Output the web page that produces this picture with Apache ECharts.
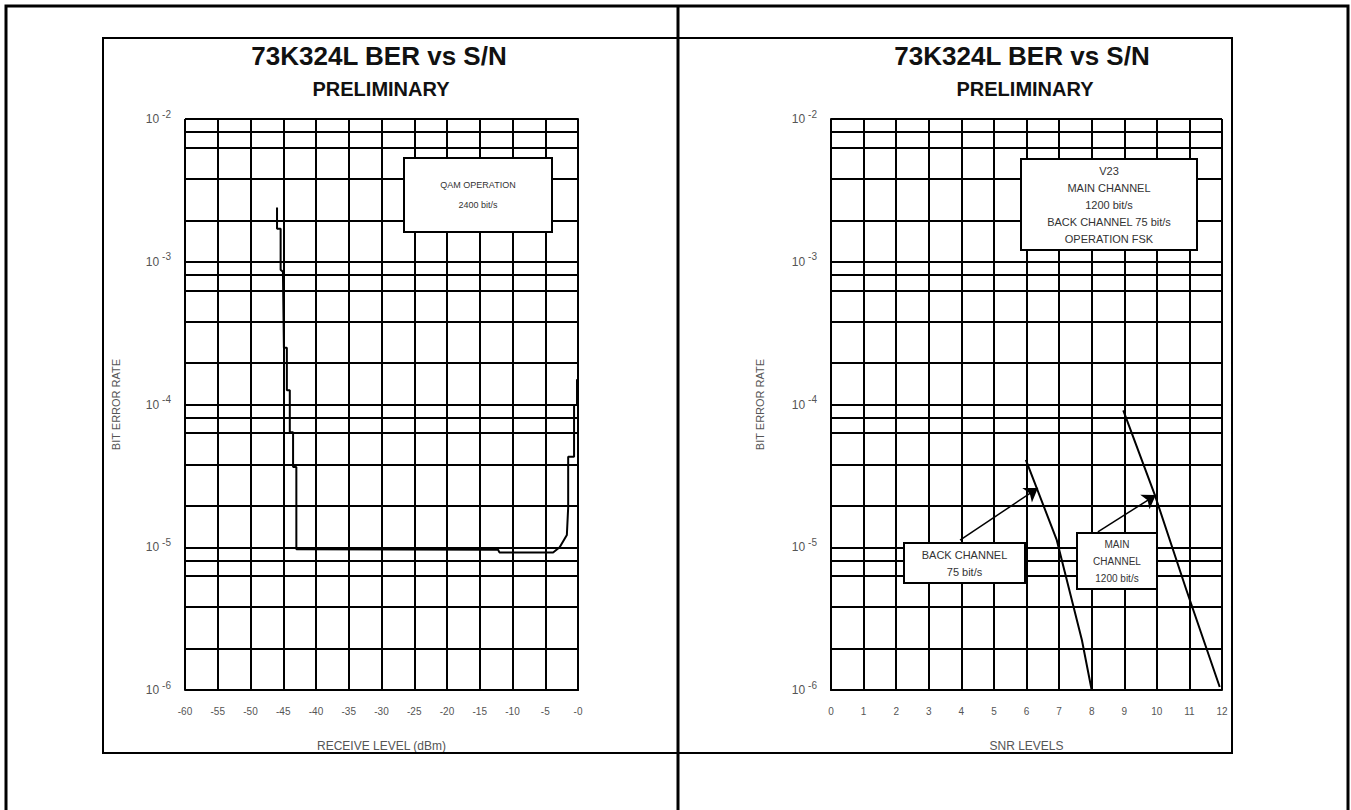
<!DOCTYPE html>
<html>
<head>
<meta charset="utf-8">
<script src="https://cdn.jsdelivr.net/npm/echarts@6/dist/echarts.min.js"></script>
<style>html,body{margin:0;padding:0;background:#fff}#c{width:1351px;height:810px}</style>
</head>
<body>
<div id="c"></div>
<script>
// ---------- data ----------
const chartTitle = '73K324L BER vs S/N';
const chartSubtitle = 'PRELIMINARY';
const leftXName = 'RECEIVE LEVEL (dBm)';
const rightXName = 'SNR LEVELS';
const yName = 'BIT ERROR RATE';

const leftXTickLabels = ['-60','-55','-50','-45','-40','-35','-30','-25','-20','-15','-10','-5','-0'];
const rightXTickLabels = ['0','1','2','3','4','5','6','7','8','9','10','11','12'];
const yTickExponentLabels = ['-2','-3','-4','-5','-6'];

// intermediate horizontal grid lines inside each decade (mantissa x 10^exp)
const minorGridMantissas = [8.1, 6.3, 3.8, 1.95];
const minorGridExponents = [-3, -4, -5, -6];

// left chart: QAM 2400 bit/s, BER vs receive level
const leftCurve = [
  [-45.95, 2.4e-3], [-45.95, 1.7e-3], [-45.4, 1.7e-3], [-45.4, 8.8e-4],
  [-45.05, 8.5e-4], [-44.9, 2.5e-4], [-44.45, 2.5e-4], [-44.45, 1.26e-4],
  [-44.0, 1.26e-4], [-44.0, 6.4e-5], [-43.5, 6.4e-5], [-43.5, 3.65e-5],
  [-43.0, 3.65e-5], [-43.0, 9.7e-6], [-12.2, 9.6e-6], [-12.0, 9.2e-6],
  [-3.8, 9.2e-6], [-2.8, 1.0e-5], [-1.7, 1.22e-5], [-1.5, 1.9e-5],
  [-1.5, 4.3e-5], [-0.6, 4.3e-5], [-0.6, 9.9e-5], [-0.15, 9.9e-5], [-0.15, 1.5e-4]
];

// right chart: FSK V23, BER vs SNR
const backChannelCurve = [[5.98, 4.1e-5], [6.93, 1.12e-5], [7.7, 2.24e-6], [8.0, 1.0e-6]];
const mainChannelCurve = [[8.97, 9.1e-5], [9.94, 2.32e-5], [10.91, 5.0e-6], [11.93, 1.05e-6]];
const backChannelArrow = [[3.96, 1.12e-5], [6.35, 2.6e-5]];
const mainChannelArrow = [[8.19, 1.28e-5], [9.97, 2.32e-5]];

const leftNote = 'QAM OPERATION\n2400 bit/s';
const rightNote = 'V23\nMAIN CHANNEL\n1200 bit/s\nBACK CHANNEL 75 bit/s\nOPERATION FSK';
const backNote = 'BACK CHANNEL\n75 bit/s';
const mainNote = 'MAIN\nCHANNEL\n1200 bit/s';

// ---------- build ----------
const FONT = "'Liberation Sans', Arial, Helvetica, sans-serif";
const minorGridValues = [];
minorGridExponents.forEach(e => minorGridMantissas.forEach(m => minorGridValues.push(m * Math.pow(10, e))));
function gridMarks(xmin, xmax) {
  return minorGridValues.map(v => [{ coord: [xmin, v] }, { coord: [xmax, v] }]);
}

const gridLineStyle = { color: '#000', width: 2, type: 'solid' };
const labelColor = '#555555';

function yAxisFor(idx, gap) {
  return {
    type: 'log', logBase: 10, gridIndex: idx, min: 1e-6, max: 1e-2,
    axisLine: { show: true, lineStyle: { color: '#000', width: 2 } },
    axisTick: { show: false },
    splitLine: { show: true, lineStyle: { color: '#000', width: 2 } },
    axisLabel: {
      margin: 14, color: labelColor, fontSize: 12, fontFamily: FONT,
      formatter: v => '{b|10}{s|' + yTickExponentLabels[Math.round(-2 - Math.log10(v))] + '}',
      rich: {
        b: { fontSize: 12, color: labelColor, fontFamily: FONT, lineHeight: 20 },
        s: { fontSize: 10, color: labelColor, fontFamily: FONT, lineHeight: 12, verticalAlign: 'top', padding: [0, 0, 0, 3] }
      }
    },
    name: yName, nameLocation: 'middle', nameGap: gap,
    nameTextStyle: { fontSize: 11, color: labelColor, fontFamily: FONT }
  };
}

function xAxisFor(idx, min, max, interval, labels, name) {
  return {
    type: 'value', gridIndex: idx, min: min, max: max, interval: interval,
    axisLine: { show: true, lineStyle: { color: '#000', width: 2 } },
    axisTick: { show: false },
    splitLine: { show: true, lineStyle: { color: '#000', width: 2 } },
    axisLabel: {
      margin: 16, fontSize: 10, color: labelColor, fontFamily: FONT,
      formatter: v => labels[Math.round((v - min) / interval)]
    },
    name: name, nameLocation: 'middle', nameGap: 50,
    nameTextStyle: { fontSize: 12, color: labelColor, fontFamily: FONT }
  };
}

function noteBox(x, y, w, h, text, fs, lh) {
  return {
    type: 'group', z: 100,
    children: [
      { type: 'rect', shape: { x: x, y: y, width: w, height: h }, style: { fill: '#fff', stroke: '#000', lineWidth: 2 }, z: 100 },
      { type: 'text', z: 101, style: {
          text: text, x: x + w / 2, y: y + h / 2,
          align: 'center', verticalAlign: 'middle', textAlign: 'center', textVerticalAlign: 'middle',
          font: fs + 'px ' + FONT, fill: '#333', lineHeight: lh } }
    ]
  };
}

function titleItem(text, cx, top, size) {
  return {
    text: text, left: cx, top: top, textAlign: 'center', padding: 0,
    textStyle: { fontSize: size, fontWeight: 'bold', fontFamily: FONT, color: '#111' }
  };
}

const option = {
  animation: false,
  backgroundColor: '#fff',
  title: [
    titleItem(chartTitle, 379, 43, 26),
    titleItem(chartSubtitle, 381, 79, 20),
    titleItem(chartTitle, 1022, 43, 26),
    titleItem(chartSubtitle, 1025, 79, 20)
  ],
  grid: [
    { left: 185, top: 119, width: 393, height: 571 },
    { left: 831, top: 119, width: 391, height: 571 }
  ],
  xAxis: [
    xAxisFor(0, -60, 0, 5, leftXTickLabels, leftXName),
    xAxisFor(1, 0, 12, 1, rightXTickLabels, rightXName)
  ],
  yAxis: [yAxisFor(0, 64), yAxisFor(1, 66)],
  series: [
    {
      type: 'line', xAxisIndex: 0, yAxisIndex: 0, data: leftCurve,
      symbol: 'none', lineStyle: { color: '#000', width: 2 }, silent: true,
      markLine: { silent: true, symbol: 'none', label: { show: false }, lineStyle: gridLineStyle, data: gridMarks(-60, 0) }
    },
    {
      type: 'line', xAxisIndex: 1, yAxisIndex: 1, data: backChannelCurve,
      symbol: 'none', lineStyle: { color: '#000', width: 2 }, silent: true,
      markLine: { silent: true, symbol: 'none', label: { show: false }, lineStyle: gridLineStyle, data: gridMarks(0, 12) }
    },
    {
      type: 'line', xAxisIndex: 1, yAxisIndex: 1, data: mainChannelCurve,
      symbol: 'none', lineStyle: { color: '#000', width: 2 }, silent: true,
      markLine: {
        silent: true, symbol: ['none', 'arrow'], symbolSize: 13, label: { show: false },
        lineStyle: { color: '#000', width: 1.5, type: 'solid' },
        data: [
          [{ coord: backChannelArrow[0] }, { coord: backChannelArrow[1] }],
          [{ coord: mainChannelArrow[0] }, { coord: mainChannelArrow[1] }]
        ]
      }
    }
  ],
  graphic: [
    { type: 'rect', z: 200, silent: true, shape: { x: 6, y: 6, width: 1342, height: 830 }, style: { fill: 'none', stroke: '#000', lineWidth: 3 } },
    { type: 'line', z: 200, silent: true, shape: { x1: 678, y1: 6, x2: 678, y2: 812 }, style: { stroke: '#000', lineWidth: 3 } },
    { type: 'rect', z: 200, silent: true, shape: { x: 103, y: 38, width: 1129, height: 715 }, style: { fill: 'none', stroke: '#000', lineWidth: 2 } },
    noteBox(404, 158, 148, 74, leftNote, 9, 20),
    noteBox(1021, 159, 176, 91, rightNote, 11, 17),
    noteBox(904, 543, 121, 40, backNote, 11, 17),
    noteBox(1077, 533, 80, 56, mainNote, 10, 17)
  ]
};

const chart = echarts.init(document.getElementById('c'), null, { renderer: 'svg', width: 1351, height: 810 });
chart.setOption(option);
</script>
</body>
</html>
